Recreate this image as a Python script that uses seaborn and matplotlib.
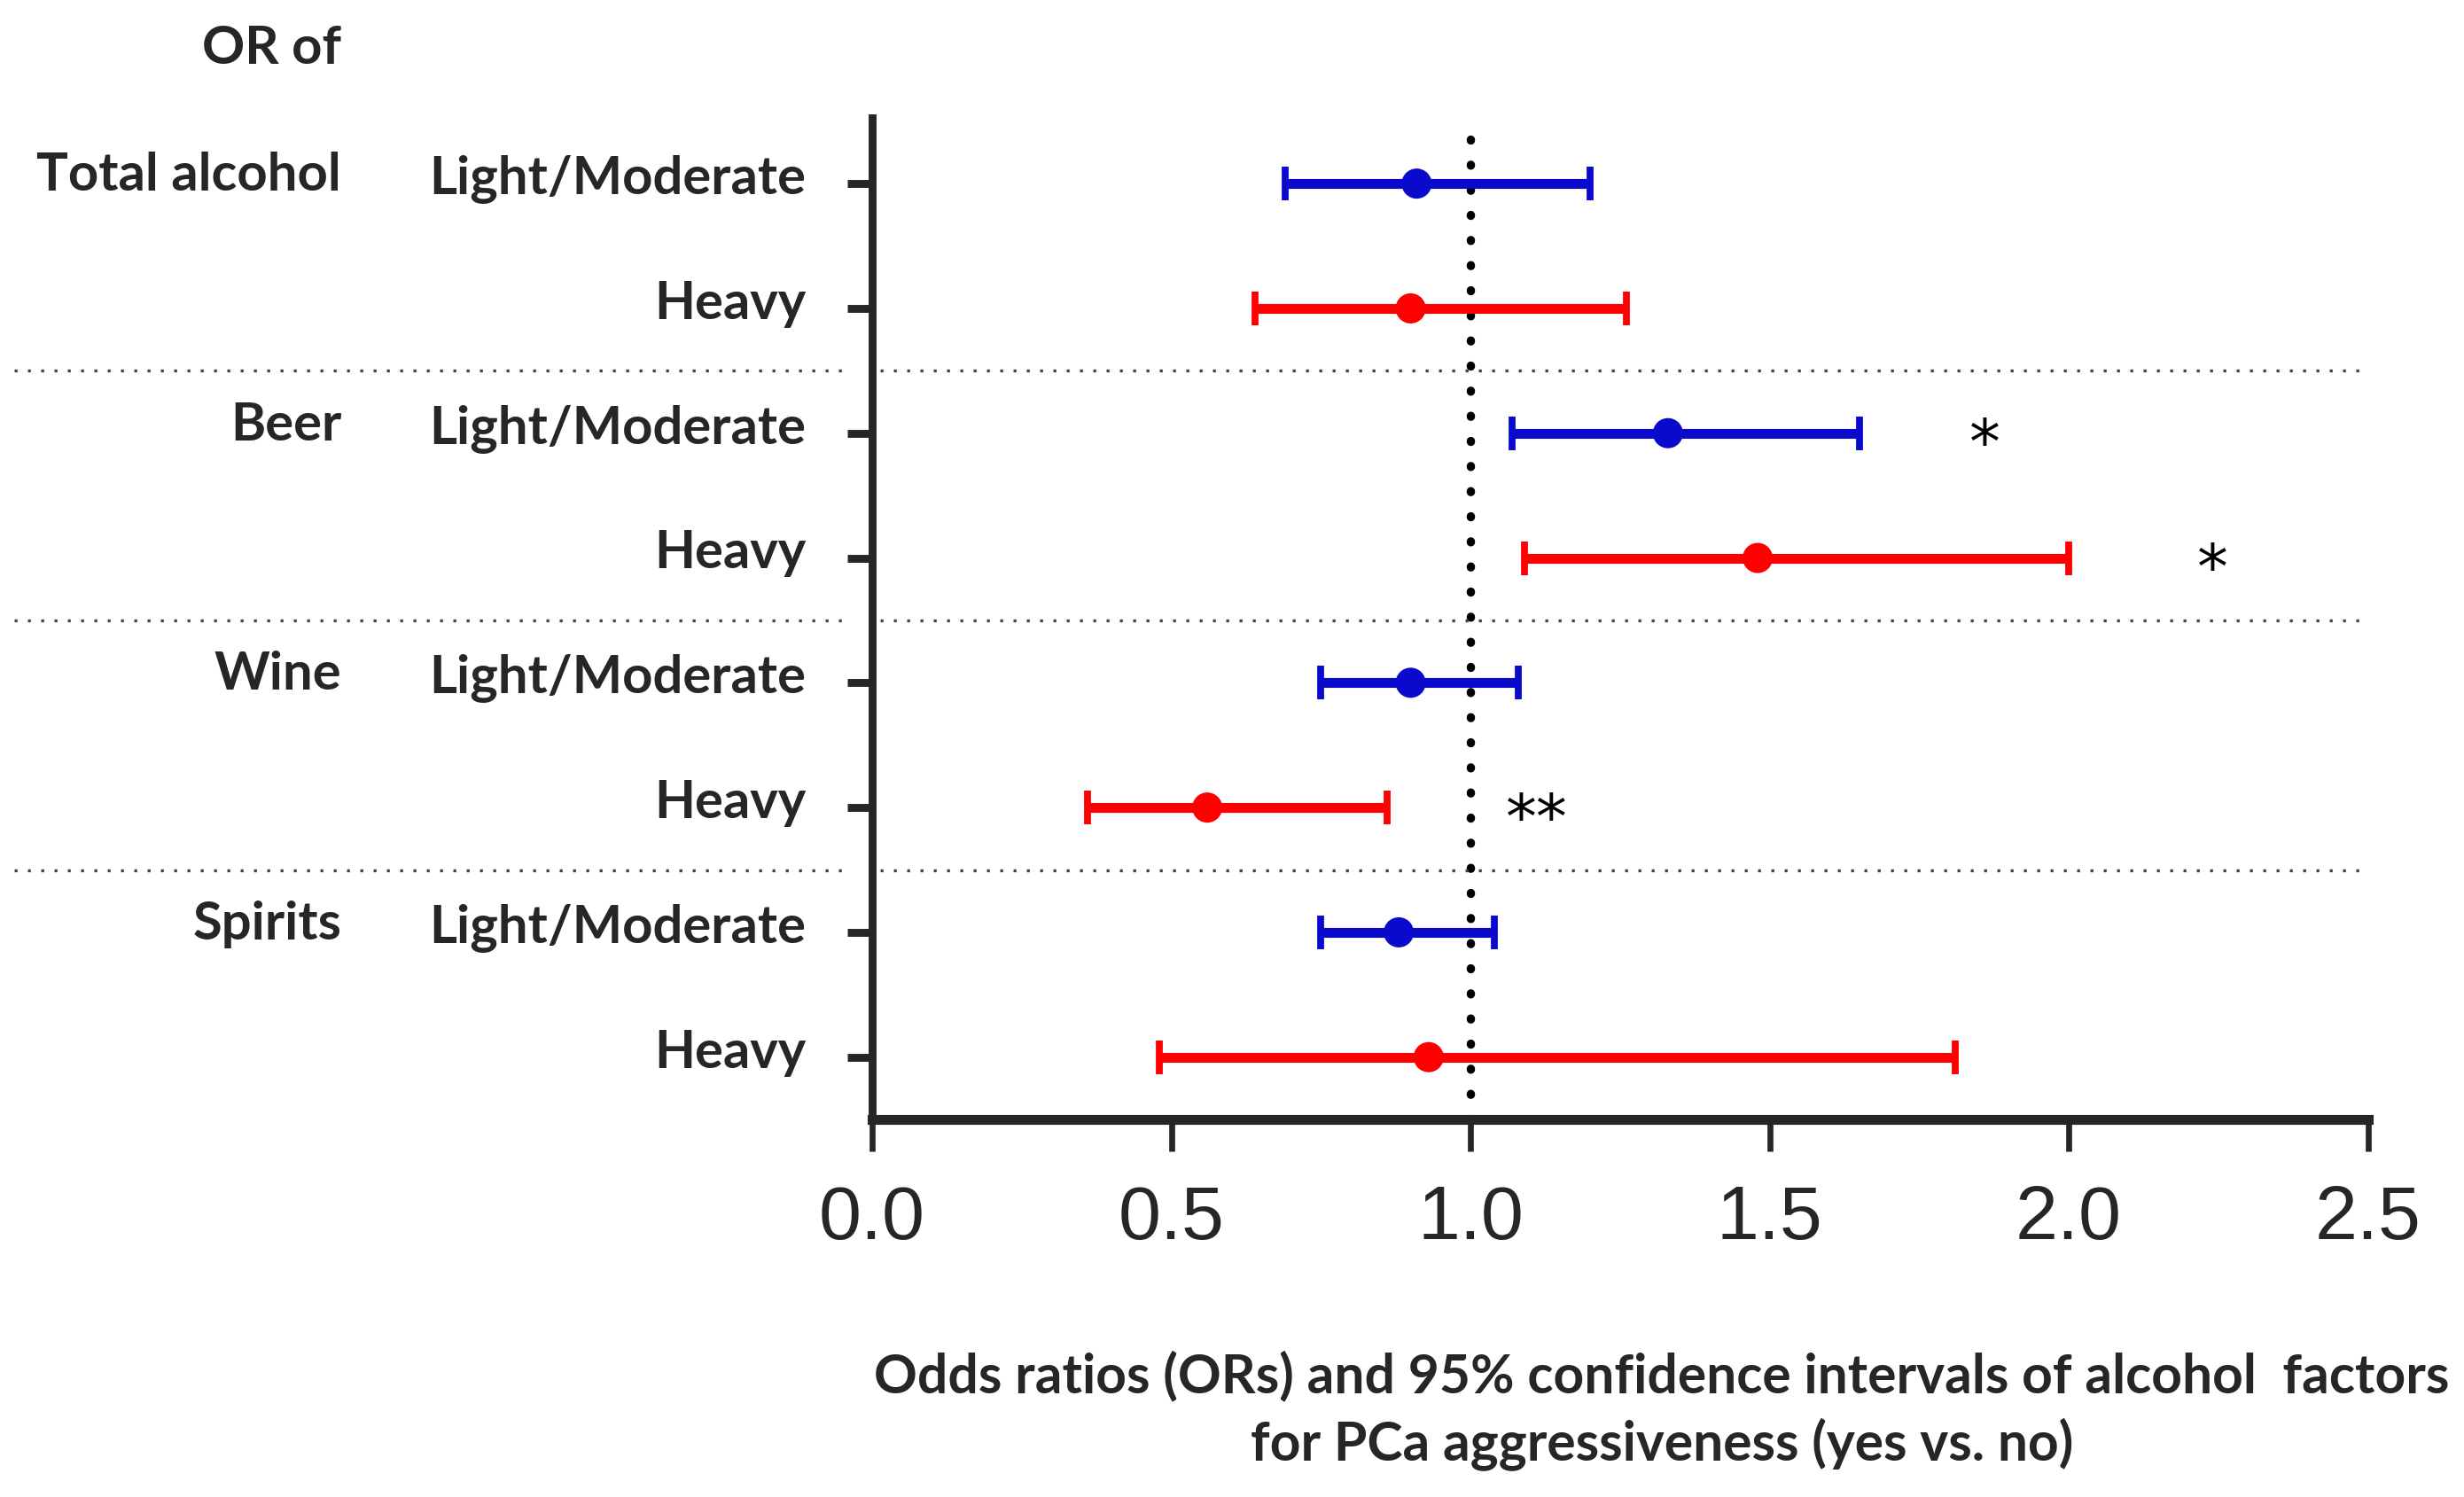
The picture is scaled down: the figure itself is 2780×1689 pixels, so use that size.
import numpy as np
import pandas as pd
import matplotlib
matplotlib.use("Agg")
import matplotlib.pyplot as plt
import matplotlib.transforms as mtransforms
import seaborn as sns

# values
beverages = ["Total alcohol", "Beer", "Wine", "Spirits"]
levels = ["Light/Moderate", "Heavy"]
odds_ratio = [0.91, 0.90, 1.33, 1.48, 0.90, 0.56, 0.88, 0.93]
ci_low = [0.69, 0.64, 1.07, 1.09, 0.75, 0.36, 0.75, 0.48]
ci_high = [1.20, 1.26, 1.65, 2.00, 1.08, 0.86, 1.04, 1.81]
signif = ["", "", "*", "*", "", "**", "", ""]
star_x = [0, 0, 1.86, 2.24, 0, 1.11, 0, 0]
xticks = [0.0, 0.5, 1.0, 1.5, 2.0, 2.5]

df = pd.DataFrame({
    "beverage": np.repeat(beverages, 2),
    "level": levels * 4,
    "OR": odds_ratio,
    "low": ci_low,
    "high": ci_high,
})
df["row"] = np.arange(len(df))

sns.set_style("ticks")
plt.rcParams["font.family"] = ["Lato", "DejaVu Sans"]

level_colors = {"Light/Moderate": "#0a0acd", "Heavy": "#ff0000"}

fig = plt.figure(figsize=(13.9, 8.45), dpi=200)
ax = fig.add_axes([0.354, 0.252, 0.607, 0.669])

# confidence intervals
for lvl, sub in df.groupby("level"):
    ax.errorbar(sub["OR"], sub["row"],
                xerr=[sub["OR"] - sub["low"], sub["high"] - sub["OR"]],
                fmt="none", ecolor=level_colors[lvl], elinewidth=4.0,
                capsize=7, capthick=2.8, zorder=3)

sns.scatterplot(data=df, x="OR", y="row", hue="level", palette=level_colors,
                s=150, edgecolor="none", legend=False, ax=ax, zorder=4)

# reference line at OR = 1
ax.axvline(1.0, color="black", lw=3.4, linestyle=(0, (0.1, 2.9)),
           dash_capstyle="round", zorder=2)

# dotted separators between beverage groups
for y in [1.5, 3.5, 5.5]:
    ax.plot([0.005, 0.995], [y, y], transform=ax.get_yaxis_transform(),
            color="#444444", lw=1.2, linestyle=(0, (1, 3.5)), clip_on=False)
    ax.plot([-0.574, -0.02], [y, y], transform=ax.get_yaxis_transform(),
            color="#444444", lw=1.2, linestyle=(0, (1, 3.5)), clip_on=False)

# significance stars
for r, (s, sx) in enumerate(zip(signif, star_x)):
    if s:
        ax.text(sx, r + 0.1, s, ha="center", va="center", fontsize=25,
                family=["DejaVu Sans"], color="black")

ax.set_xlim(0, 2.5)
ax.set_ylim(7.5, -0.53)
ax.set_xticks(xticks)
ax.set_xticklabels([f"{t:.1f}" for t in xticks], family=["Liberation Sans"],
                   fontsize=31)
ax.set_yticks(df["row"])
ax.set_yticklabels(df["level"], fontweight="bold", fontsize=21.5)
ax.tick_params(axis="y", length=10, width=3.2, pad=17)
ax.tick_params(axis="x", length=13, width=2.4, pad=13)
ax.set_xlabel("")
ax.set_ylabel("")

# lift the row labels a little above their ticks
shift = mtransforms.ScaledTranslation(0, 4 / 72, fig.dpi_scale_trans)
for lbl in ax.get_yticklabels():
    lbl.set_transform(lbl.get_transform() + shift)

for side in ["top", "right"]:
    ax.spines[side].set_visible(False)
ax.spines["left"].set_linewidth(3.2)
ax.spines["bottom"].set_linewidth(4.0)

# beverage group labels
ax.text(-0.355, -1.09, "OR of", transform=ax.get_yaxis_transform(),
        ha="right", va="center", fontsize=21.5, fontweight="bold")
for i, bev in enumerate(beverages):
    ax.text(-0.355, 2 * i - 0.07, bev, transform=ax.get_yaxis_transform(),
            ha="right", va="center", fontsize=21.5, fontweight="bold")

fig.text(0.6745, 0.058,
         "Odds ratios (ORs) and 95% confidence intervals of alcohol  factors\n"
         "for PCa aggressiveness (yes vs. no)",
         ha="center", va="center", fontsize=21.8, fontweight="bold",
         linespacing=1.38)

fig.savefig("out.png", dpi=200, facecolor="white")
